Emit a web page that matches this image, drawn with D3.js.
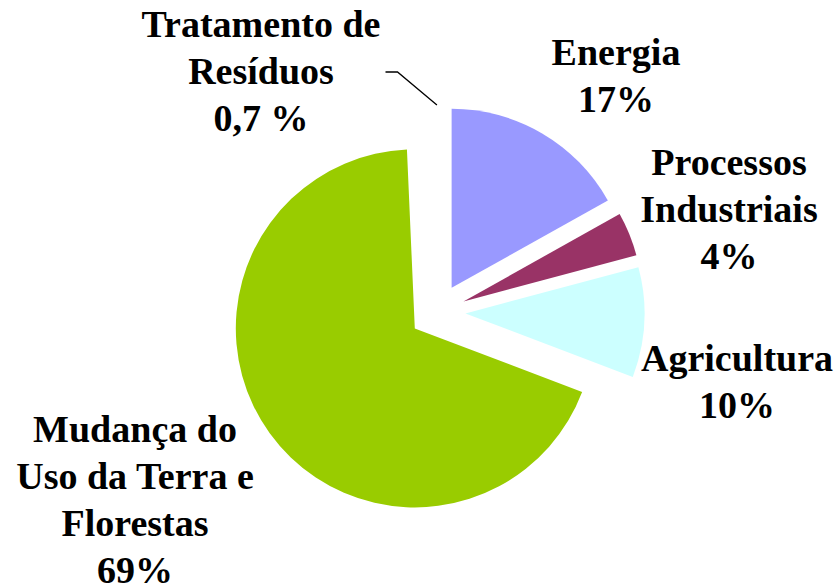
<!DOCTYPE html>
<html>
<head>
<meta charset="utf-8">
<script src="https://cdn.jsdelivr.net/npm/d3@7"></script>
<style>
  body { margin: 0; background: #fff; }
</style>
</head>
<body>
<div id="chart"></div>
<script>
// Emissões por setor (%)
const categories = ['Tratamento de Resíduos', 'Energia', 'Processos Industriais', 'Agricultura', 'Mudança do Uso da Terra e Florestas'];
const values = [0.7, 17, 4, 10, 69];
const valueLabels = ['0,7 %', '17%', '4%', '10%', '69%'];
const labelLines = [
    ['Tratamento de', 'Resíduos'],
    ['Energia'],
    ['Processos', 'Industriais'],
    ['Agricultura'],
    ['Mudança do', 'Uso da Terra e', 'Florestas']
];
const colors = ['#ffffff', '#9999ff', '#993366', '#ccffff', '#99cc00'];

// layout
const width = 839, height = 586;
const cx = 437.5, cy = 312;
const radius = 179;
const explode = 28;
const fontSize = 38;
const lineH = 47;
const labelPos = [
    { x: 261, y: 37 },
    { x: 616, y: 65 },
    { x: 729, y: 175 },
    { x: 737, y: 371 },
    { x: 135, y: 442 }
];

const data = categories.map((c, i) => ({ name: c, value: values[i], label: valueLabels[i], lines: labelLines[i], color: colors[i] }));

const svg = d3.select('#chart')
    .append('svg')
    .attr('width', width)
    .attr('height', height);

const g = svg.append('g')
    .attr('transform', `translate(${cx},${cy})`);

// percentages of a 100 total: 1% = 3.6 degrees, first slice sits just left of 12 o'clock
const pie = d3.pie()
    .sort(null)
    .value(d => d.value)
    .startAngle(-2 * Math.PI * values[0] / 100)
    .endAngle(2 * Math.PI);

const arc = d3.arc()
    .innerRadius(0)
    .outerRadius(radius);

const arcs = pie(data);

const offset = d => {
    const a = (d.startAngle + d.endAngle) / 2;
    return [Math.sin(a) * explode, -Math.cos(a) * explode];
};

g.selectAll('.slice')
    .data(arcs)
    .enter()
    .append('path')
    .attr('class', 'slice')
    .attr('d', arc)
    .attr('fill', d => d.data.color)
    .attr('transform', d => `translate(${offset(d)})`);

// linha de chamada para o menor setor
const small = arcs[0];
const midA = (small.startAngle + small.endAngle) / 2;
const tip = [Math.sin(midA) * (radius + explode) + 4, -Math.cos(midA) * (radius + explode)];
g.append('polyline')
    .attr('points', [[-52, -240], [-40, -240], tip].map(p => p.join(',')).join(' '))
    .attr('fill', 'none')
    .attr('stroke', '#000')
    .attr('stroke-width', 1.3);

// rótulos
data.forEach((d, i) => {
    const lines = d.lines.concat([d.label]);
    const t = svg.append('text')
        .attr('x', labelPos[i].x)
        .attr('y', labelPos[i].y)
        .attr('text-anchor', 'middle')
        .attr('font-size', fontSize)
        .style('font-family', "'Liberation Serif'")
        .style('font-weight', 'bold')
        .attr('fill', '#000');
    lines.forEach((l, j) => {
        t.append('tspan')
            .attr('x', labelPos[i].x)
            .attr('dy', j === 0 ? 0 : lineH)
            .text(l);
    });
});
</script>
</body>
</html>
